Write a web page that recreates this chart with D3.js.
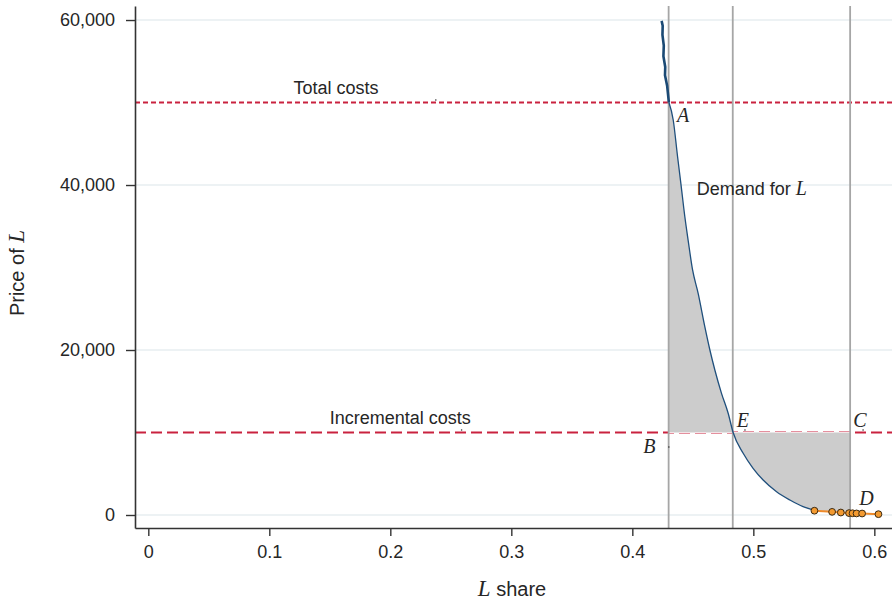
<!DOCTYPE html>
<html>
<head>
<meta charset="utf-8">
<script src="https://cdn.jsdelivr.net/npm/d3@7"></script>
<style>
  body { margin: 0; background: #fff; }
  svg { display: block; }
</style>
</head>
<body>
<div id="chart"></div>
<script>
// demand for L: share vs price
const demandTop = [
  [0.4242, 59900], [0.4251, 59300], [0.4249, 58200], [0.4260, 56900],
  [0.4257, 55600], [0.4272, 54300], [0.4270, 53300], [0.4288, 52000],
  [0.4302, 50024]
]
const demand = [
  [0.4302, 50024], [0.4338, 47880], [0.4374, 43430], [0.4401, 40200],
  [0.4434, 36150], [0.4461, 33330], [0.4498, 29700], [0.4544, 26870],
  [0.4599, 22830], [0.4641, 20000], [0.4682, 17580], [0.4737, 14750],
  [0.4792, 12330], [0.4833, 10000], [0.4916, 7480], [0.4998, 5660],
  [0.5081, 4240], [0.5192, 2820], [0.5302, 1820], [0.5411, 1010],
  [0.5500, 600]
]
// observed points (orange)
const observed = [
  [0.5505, 520], [0.5651, 380], [0.5723, 300], [0.5791, 230],
  [0.5820, 210], [0.5853, 190], [0.5899, 180], [0.6034, 100]
]

const totalCost = 50000
const incrementalCost = 10000
const verticals = [0.43, 0.483, 0.58]
const shadeFrom = 0.43
const shadeTo = 0.58

const xTicks = [0, 0.1, 0.2, 0.3, 0.4, 0.5, 0.6]
const yTicks = [0, 20000, 40000, 60000]

const costLabels = [
  {text: "Total costs", share: 0.12, price: 51030},
  {text: "Incremental costs", share: 0.150, price: 11030}
]
const demandLabel = {share: 0.4532, price: 38790}
const pointLabels = [
  {name: "A", share: 0.437, price: 47630},
  {name: "E", share: 0.4863, price: 10700},
  {name: "C", share: 0.5826, price: 10700},
  {name: "B", share: 0.409, price: 7480},
  {name: "D", share: 0.5876, price: 1210}
]
// tiny anchor marks left over from the annotations
const anchorMarks = [
  [0.2376, 50300], [0.2589, 10300], [0.4302, 8240], [0.4931, 10300], [0.5907, 10300]
]

const width = 892
const height = 602
const margin = {top: 6, right: 0, bottom: 74, left: 135}

const sans = "'Liberation Sans', Arial, Helvetica, sans-serif"
const serif = "'Liberation Serif', 'Times New Roman', serif"
const textColor = "#262626"
const red = "#c9223f"

const x = d3.scaleLinear()
  .domain([-0.011, 0.6146])
  .range([margin.left, width - margin.right])
const y = d3.scaleLinear()
  .domain([-1576, 61700])
  .range([height - margin.bottom, margin.top])

const svg = d3.select("#chart").append("svg")
  .attr("width", width)
  .attr("height", height)

svg.append("defs").append("clipPath")
  .attr("id", "shade-clip")
  .append("rect")
    .attr("x", x(shadeFrom))
    .attr("y", margin.top)
    .attr("width", x(shadeTo) - x(shadeFrom))
    .attr("height", height - margin.top - margin.bottom)

// grid
svg.append("g").selectAll("line")
  .data(yTicks)
  .join("line")
    .attr("x1", margin.left)
    .attr("x2", width - margin.right)
    .attr("y1", d => y(d))
    .attr("y2", d => y(d))
    .attr("stroke", "#e7eef1")
    .attr("stroke-width", 1.5)

// cost lines
const costs = [
  {value: totalCost, dash: "5,3"},
  {value: incrementalCost, dash: "11,5"}
]
svg.append("g").selectAll("line")
  .data(costs)
  .join("line")
    .attr("x1", margin.left)
    .attr("x2", width - margin.right)
    .attr("y1", d => y(d.value))
    .attr("y2", d => y(d.value))
    .attr("stroke", red)
    .attr("stroke-width", 1.8)
    .attr("stroke-dasharray", d => d.dash)

// shaded area between demand and the costs
const demandLine = d3.line()
  .x(d => x(d[0]))
  .y(d => y(d[1]))
  .curve(d3.curveMonotoneX)

const last = observed[observed.length - 1]
const shadePath = demandLine(demand) +
  observed.slice(1).map(d => `L${x(d[0])},${y(d[1])}`).join("") +
  `L${x(last[0])},${y(incrementalCost)}` +
  `L${x(shadeFrom)},${y(incrementalCost)}` +
  `L${x(shadeFrom)},${y(demand[0][1])}Z`

svg.append("path")
  .attr("d", shadePath)
  .attr("clip-path", "url(#shade-clip)")
  .attr("fill", "#cccccc")

svg.append("line")
  .attr("clip-path", "url(#shade-clip)")
  .attr("x1", margin.left)
  .attr("x2", width - margin.right)
  .attr("y1", y(incrementalCost))
  .attr("y2", y(incrementalCost))
  .attr("stroke", "#f3e4e7")
  .attr("stroke-width", 1.2)
  .attr("stroke-dasharray", "11,5")

// verticals
svg.append("g").selectAll("line")
  .data(verticals)
  .join("line")
    .attr("x1", d => x(d))
    .attr("x2", d => x(d))
    .attr("y1", margin.top)
    .attr("y2", height - margin.bottom)
    .attr("stroke", "#a6a6a6")
    .attr("stroke-width", 1.8)

// demand curve
svg.append("path")
  .attr("d", d3.line().x(d => x(d[0])).y(d => y(d[1]))(demandTop))
  .attr("fill", "none")
  .attr("stroke", "#1b4a75")
  .attr("stroke-width", 2.6)
  .attr("stroke-linejoin", "round")

svg.append("path")
  .attr("d", demandLine(demand))
  .attr("fill", "none")
  .attr("stroke", "#1f4f7c")
  .attr("stroke-width", 1.3)

// observed points
svg.append("path")
  .attr("d", d3.line().x(d => x(d[0])).y(d => y(d[1]))(observed))
  .attr("fill", "none")
  .attr("stroke", "#ee8a2a")
  .attr("stroke-width", 2)

svg.append("g").selectAll("circle")
  .data(observed)
  .join("circle")
    .attr("cx", d => x(d[0]))
    .attr("cy", d => y(d[1]))
    .attr("r", 3.4)
    .attr("fill", "#f39a30")
    .attr("stroke", "#3a2a14")
    .attr("stroke-width", 1)

svg.append("g").selectAll("circle")
  .data(anchorMarks)
  .join("circle")
    .attr("cx", d => x(d[0]))
    .attr("cy", d => y(d[1]))
    .attr("r", 0.8)
    .attr("fill", "#333")

// labels
svg.append("g").selectAll("text")
  .data(costLabels)
  .join("text")
    .attr("x", d => x(d.share))
    .attr("y", d => y(d.price))
    .attr("font-family", sans)
    .attr("font-size", 18)
    .attr("fill", textColor)
    .text(d => d.text)

const dl = svg.append("text")
  .attr("x", x(demandLabel.share))
  .attr("y", y(demandLabel.price))
  .attr("font-family", sans)
  .attr("font-size", 18)
  .attr("fill", textColor)
dl.append("tspan").text("Demand for ")
dl.append("tspan")
  .attr("font-family", serif)
  .attr("font-style", "italic")
  .attr("font-size", 20)
  .text("L")

svg.append("g").selectAll("text")
  .data(pointLabels)
  .join("text")
    .attr("x", d => x(d.share))
    .attr("y", d => y(d.price))
    .attr("font-family", serif)
    .attr("font-style", "italic")
    .attr("font-size", 20)
    .attr("fill", textColor)
    .text(d => d.name)

// axes
const axisX = svg.append("g")
  .attr("transform", `translate(0,${height - margin.bottom})`)
  .call(d3.axisBottom(x)
    .tickValues(xTicks)
    .tickFormat(d => d === 0 ? "0" : d3.format(".1f")(d))
    .tickSize(8)
    .tickPadding(9)
    .tickSizeOuter(0))

const axisY = svg.append("g")
  .attr("transform", `translate(${margin.left},0)`)
  .call(d3.axisLeft(y)
    .tickValues(yTicks)
    .tickFormat(d3.format(","))
    .tickSize(9)
    .tickPadding(11)
    .tickSizeOuter(0))

for (const g of [axisX, axisY]) {
  g.attr("font-family", sans).attr("font-size", 18).attr("color", "#333")
  g.select(".domain").attr("stroke-width", 1.6)
  g.selectAll(".tick line").attr("stroke-width", 1.4)
  g.selectAll(".tick text").attr("fill", textColor)
}

const xTitle = svg.append("text")
  .attr("x", 512)
  .attr("y", 596)
  .attr("text-anchor", "middle")
  .attr("font-family", sans)
  .attr("font-size", 20)
  .attr("fill", textColor)
xTitle.append("tspan")
  .attr("font-family", serif)
  .attr("font-style", "italic")
  .attr("font-size", 23)
  .text("L")
xTitle.append("tspan").text(" share")

const yTitle = svg.append("text")
  .attr("transform", "translate(23.5,273) rotate(-90)")
  .attr("text-anchor", "middle")
  .attr("font-family", sans)
  .attr("font-size", 20)
  .attr("fill", textColor)
yTitle.append("tspan").text("Price of ")
yTitle.append("tspan")
  .attr("font-family", serif)
  .attr("font-style", "italic")
  .attr("font-size", 23)
  .text("L")
</script>
</body>
</html>
